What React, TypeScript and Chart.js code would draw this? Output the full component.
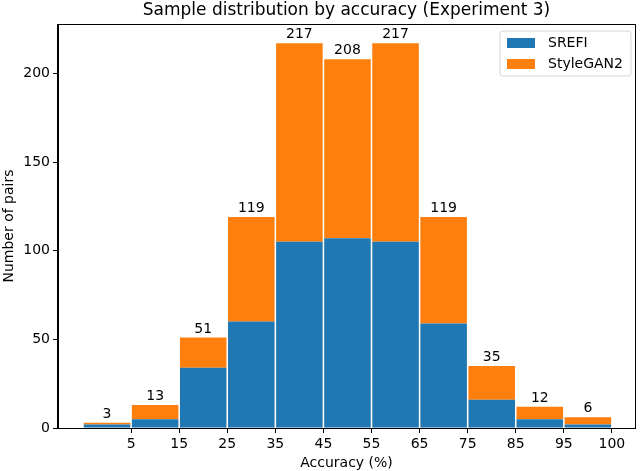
import React, { useEffect, useRef } from "react";
import { Chart, registerables } from "chart.js";

Chart.register(...registerables);

const binPositions = [0, 1, 2, 3, 4, 5, 6, 7, 8, 9, 10];
const tickPositions = [0.5, 1.5, 2.5, 3.5, 4.5, 5.5, 6.5, 7.5, 8.5, 9.5, 10.5];
const tickLabels = ["5", "15", "25", "35", "45", "55", "65", "75", "85", "95", "100"];
const srefiCounts = [2, 5, 34, 60, 105, 107, 105, 59, 16, 5, 2];
const styleganCounts = [1, 8, 17, 59, 112, 101, 112, 60, 19, 7, 4];
const yTicks = [0, 50, 100, 150, 200];

const FONT = "'DejaVu Sans', sans-serif";
const BLUE = "#1f77b4";
const ORANGE = "#ff7f0e";

const framePlugin = {
  id: "frameAndExtras",
  afterDatasetsDraw(chart: any) {
    const { ctx, scales } = chart;
    ctx.save();
    ctx.fillStyle = "#000";
    ctx.font = `14px ${FONT}`;
    ctx.textAlign = "center";
    ctx.textBaseline = "alphabetic";
    binPositions.forEach((p, i) => {
      const total = srefiCounts[i] + styleganCounts[i];
      const x = scales.x.getPixelForValue(p);
      const y = scales.y.getPixelForValue(total);
      ctx.fillText(String(total), x, y - 5);
    });
    ctx.restore();
  },
  afterDraw(chart: any) {
    const { ctx, chartArea } = chart;
    ctx.save();
    ctx.strokeStyle = "#000";
    ctx.lineWidth = 1;
    ctx.strokeRect(
      Math.round(chartArea.left) - 0.5,
      Math.round(chartArea.top) + 0.5,
      Math.round(chartArea.right - chartArea.left) + 1,
      Math.round(chartArea.bottom - chartArea.top)
    );
    ctx.fillStyle = "#000";
    ctx.font = `17px ${FONT}`;
    ctx.textAlign = "center";
    ctx.textBaseline = "middle";
    ctx.fillText(
      "Sample distribution by accuracy (Experiment 3)",
      (chartArea.left + chartArea.right) / 2,
      11
    );
    const bx = 500, by = 31, bw = 131, bh = 45, r = 3;
    ctx.beginPath();
    ctx.moveTo(bx + r, by);
    ctx.lineTo(bx + bw - r, by);
    ctx.quadraticCurveTo(bx + bw, by, bx + bw, by + r);
    ctx.lineTo(bx + bw, by + bh - r);
    ctx.quadraticCurveTo(bx + bw, by + bh, bx + bw - r, by + bh);
    ctx.lineTo(bx + r, by + bh);
    ctx.quadraticCurveTo(bx, by + bh, bx, by + bh - r);
    ctx.lineTo(bx, by + r);
    ctx.quadraticCurveTo(bx, by, bx + r, by);
    ctx.closePath();
    ctx.fillStyle = "rgba(255,255,255,0.8)";
    ctx.fill();
    ctx.strokeStyle = "rgba(204,204,204,0.8)";
    ctx.stroke();
    const entries = [
      { label: "SREFI", color: BLUE, y: 43 },
      { label: "StyleGAN2", color: ORANGE, y: 64 },
    ];
    ctx.font = `14px ${FONT}`;
    ctx.textAlign = "left";
    ctx.textBaseline = "middle";
    entries.forEach((e) => {
      ctx.fillStyle = e.color;
      ctx.fillRect(507, e.y - 5, 28, 10);
      ctx.fillStyle = "#000";
      ctx.fillText(e.label, 548, e.y);
    });
    ctx.restore();
  },
};

export default function App() {
  const canvasRef = useRef<HTMLCanvasElement | null>(null);

  useEffect(() => {
    const canvas = canvasRef.current;
    if (!canvas) return;
    const chart = new Chart(canvas, {
      type: "bar",
      data: {
        datasets: [
          {
            label: "SREFI",
            data: binPositions.map((p, i) => ({ x: p, y: srefiCounts[i] })),
            backgroundColor: BLUE,
            borderWidth: 0,
            categoryPercentage: 1,
            barPercentage: 0.968,
          },
          {
            label: "StyleGAN2",
            data: binPositions.map((p, i) => ({ x: p, y: styleganCounts[i] })),
            backgroundColor: ORANGE,
            borderWidth: 0,
            categoryPercentage: 1,
            barPercentage: 0.968,
          },
        ],
      },
      options: {
        responsive: false,
        animation: false,
        devicePixelRatio: 1,
        layout: { padding: { top: 24, right: 5, left: 0, bottom: 0 } },
        plugins: {
          legend: { display: false },
          title: { display: false },
          tooltip: { enabled: false },
        },
        scales: {
          x: {
            type: "linear",
            stacked: true,
            offset: false,
            min: -1.02,
            max: 10.98,
            afterBuildTicks: (scale: any) => {
              scale.ticks = tickPositions.map((v) => ({ value: v }));
            },
            afterFit: (scale: any) => {
              scale.height = 43;
            },
            ticks: {
              autoSkip: false,
              maxRotation: 0,
              padding: 3,
              color: "#000",
              font: { family: FONT, size: 14 },
              callback: (value: any) => {
                const idx = tickPositions.indexOf(Number(value));
                return idx >= 0 ? tickLabels[idx] : "";
              },
            },
            grid: {
              display: true,
              offset: false,
              drawOnChartArea: false,
              drawTicks: true,
              tickLength: 5,
              color: "#000",
            },
            border: { display: true, color: "#000", width: 1 },
            title: {
              display: true,
              text: "Accuracy (%)",
              color: "#000",
              font: { family: FONT, size: 14 },
              padding: { top: 0, bottom: -1 },
            },
          },
          y: {
            stacked: true,
            min: 0,
            max: 227.85,
            afterBuildTicks: (scale: any) => {
              scale.ticks = yTicks.map((v) => ({ value: v }));
            },
            afterFit: (scale: any) => {
              scale.width = 58;
            },
            ticks: {
              padding: 3,
              color: "#000",
              font: { family: FONT, size: 14 },
            },
            grid: {
              display: true,
              drawOnChartArea: false,
              drawTicks: true,
              tickLength: 5,
              color: "#000",
            },
            border: { display: true, color: "#000", width: 1 },
            title: {
              display: true,
              text: "Number of pairs",
              color: "#000",
              font: { family: FONT, size: 14 },
              padding: { top: 1, bottom: 0 },
            },
          },
        },
      },
      plugins: [framePlugin],
    });
    return () => chart.destroy();
  }, []);

  return (
    <div style={{ position: "fixed", left: 0, top: 0, width: 640, height: 471, background: "#fff" }}>
      <canvas ref={canvasRef} width={640} height={471} style={{ display: "block" }} />
    </div>
  );
}
